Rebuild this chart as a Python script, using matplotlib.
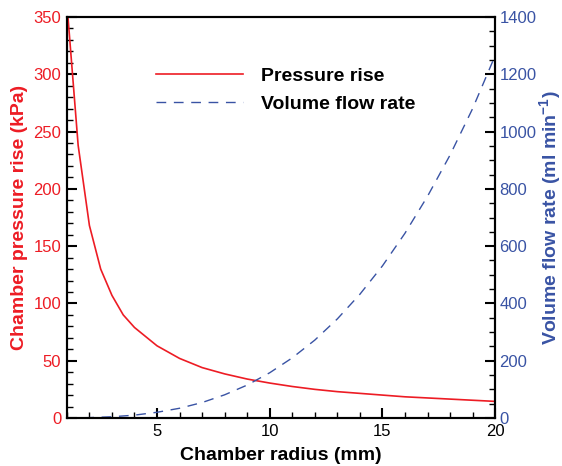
import matplotlib
matplotlib.use('Agg')
import matplotlib.pyplot as plt
from matplotlib.ticker import MultipleLocator

# 数据
radius = [1, 1.5, 2, 2.5, 3, 3.5, 4, 5, 6, 7, 8, 9, 10, 11, 12, 13, 14, 15, 16, 17, 18, 19, 20]
pressure = [362, 238, 168, 130, 107, 90, 79, 63, 52, 44, 38.5, 34, 30.5, 27.5, 25, 23, 21.5,
            20, 18.5, 17.5, 16.5, 15.5, 14.5]
flow_radius = [1, 2, 3, 4, 5, 6, 7, 8, 9, 10, 11, 12, 13, 14, 15, 16, 17, 18, 19, 20]
flow = [0.2, 1.3, 4.3, 10, 20, 34, 54, 81, 115, 158, 210, 272, 346, 432, 531, 645, 774,
        918, 1080, 1265]

red = '#ed1c24'
blue = '#3953a4'

plt.rcParams['font.family'] = ['Liberation Sans', 'DejaVu Sans']
plt.rcParams['mathtext.fontset'] = 'custom'
plt.rcParams['mathtext.rm'] = 'Liberation Sans'
plt.rcParams['mathtext.bf'] = 'Liberation Sans:bold'

fig = plt.figure(figsize=(5.62, 4.66), dpi=100)
ax1 = fig.add_axes([0.119, 0.103, 0.762, 0.8605])
ax2 = ax1.twinx()

l1, = ax1.plot(radius, pressure, color=red, lw=1.2, label='Pressure rise')
l2, = ax2.plot(flow_radius, flow, color=blue, lw=1.0, linestyle=(0, (7, 5.5)),
               label='Volume flow rate')

ax1.set_xlim(1, 20)
ax1.set_ylim(0, 350)
ax2.set_ylim(0, 1400)

ax1.xaxis.set_major_locator(MultipleLocator(5))
ax1.xaxis.set_minor_locator(MultipleLocator(1))
ax1.yaxis.set_major_locator(MultipleLocator(50))
ax1.yaxis.set_minor_locator(MultipleLocator(10))
ax2.yaxis.set_major_locator(MultipleLocator(200))
ax2.yaxis.set_minor_locator(MultipleLocator(50))

for ax in (ax1, ax2):
    for s in ax.spines.values():
        s.set_linewidth(1.5)
    ax.tick_params(axis='y', which='major', direction='in', length=7, width=1.5, labelsize=12)
    ax.tick_params(axis='y', which='minor', direction='in', length=4, width=1)
ax1.tick_params(axis='x', which='major', direction='in', length=7, width=1.5, labelsize=12,
                top=False, pad=4)
ax1.tick_params(axis='x', which='minor', direction='in', length=4, width=1, top=False)
ax2.tick_params(axis='x', which='both', top=False, bottom=False, labeltop=False, labelbottom=False)
ax1.tick_params(axis='y', which='both', right=False, labelcolor=red, pad=4)
ax2.tick_params(axis='y', which='both', left=False, labelcolor=blue, pad=3)

ax1.set_xlabel('Chamber radius (mm)', fontsize=14, fontweight='bold', labelpad=6)
ax1.set_ylabel('Chamber pressure rise (kPa)', fontsize=14, fontweight='bold', color=red, labelpad=4)
ax2.set_ylabel('Volume flow rate (ml min$^{\\mathbf{-1}}$)', fontsize=14, fontweight='bold',
               color=blue, labelpad=1)

leg = ax2.legend(handles=[l1, l2], loc='upper left', bbox_to_anchor=(0.207, 0.875),
                 frameon=False, fontsize=14, handlelength=4.5, handletextpad=0.9,
                 labelspacing=0.55, borderpad=0, borderaxespad=0)
for t in leg.get_texts():
    t.set_fontweight('bold')

fig.savefig('out.png', dpi=100)
